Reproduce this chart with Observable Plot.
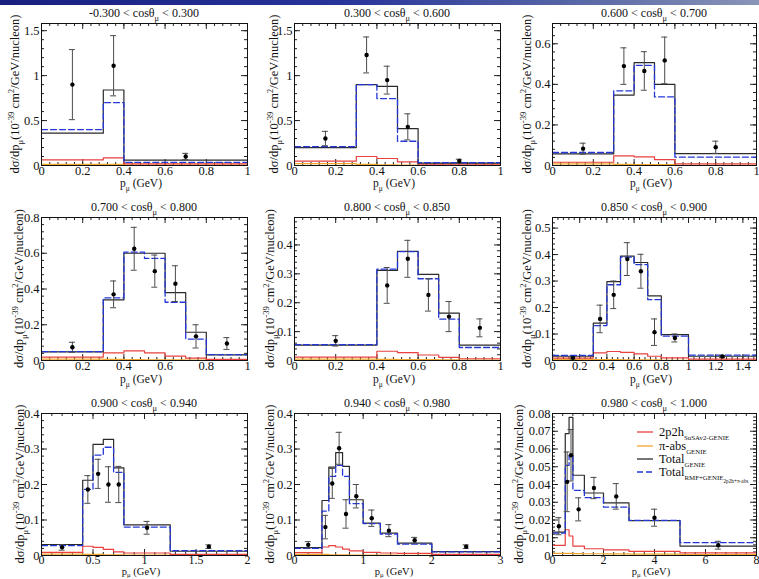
<!DOCTYPE html>
<html>
<head>
<meta charset="utf-8">
<script src="https://cdn.jsdelivr.net/npm/d3@7"></script>
<script src="https://cdn.jsdelivr.net/npm/@observablehq/plot@0.6"></script>
<style>
  html, body { margin: 0; padding: 0; background: #fff; overflow: hidden; }
  #page { position: relative; width: 759px; height: 579px; overflow: hidden; background: #fff;
          font-family: "Liberation Serif", "DejaVu Serif", serif; }
  #band { position: absolute; left: 0; top: 0; width: 759px; height: 5px;
          background: linear-gradient(to right, #18207f, #27349a 45%, #5f6ea8 80%, #8a95b8); }
  .panel { position: absolute; }
  .panel text, .panel tspan { font-family: "Liberation Serif", "DejaVu Serif", serif; }
</style>
</head>
<body>
<div id="page"><div id="band"></div></div>
<script>
// cos(theta_mu) slice boundaries, one slice per panel
const cosEdges = ["-0.300", "0.300", "0.600", "0.700", "0.800", "0.850", "0.900", "0.940", "0.980", "1.000"];

// muon momentum bin edges (GeV) for each slice, last edge = end of drawn range
const binEdges = [
  [0, 0.3, 0.4, 1],
  [0, 0.3, 0.4, 0.5, 0.6, 1],
  [0, 0.3, 0.4, 0.5, 0.6, 1],
  [0, 0.3, 0.4, 0.5, 0.6, 0.7, 0.8, 1],
  [0, 0.4, 0.5, 0.6, 0.7, 0.8, 1],
  [0, 0.3, 0.4, 0.5, 0.6, 0.7, 0.8, 1.0, 1.5],
  [0, 0.4, 0.5, 0.6, 0.7, 0.8, 1.25, 2],
  [0, 0.4, 0.5, 0.6, 0.7, 0.8, 1.0, 1.25, 1.5, 2.0, 3],
  [0, 0.5, 0.65, 0.8, 1.25, 2, 3, 5, 8]
];

// Total GENIE prediction per bin
const totalGenie = [
  [0.36, 0.84, 0.06],
  [0.20, 0.90, 0.88, 0.41, 0.026],
  [0.057, 0.347, 0.507, 0.40, 0.059],
  [0.048, 0.339, 0.60, 0.60, 0.38, 0.158, 0.032],
  [0.053, 0.312, 0.378, 0.298, 0.164, 0.053],
  [0.016, 0.141, 0.298, 0.394, 0.37, 0.244, 0.098, 0.016],
  [0.031, 0.212, 0.313, 0.327, 0.247, 0.086, 0.012],
  [0.022, 0.155, 0.249, 0.29, 0.251, 0.157, 0.091, 0.063, 0.035, 0.011],
  [0.0132, 0.0687, 0.0778, 0.0452, 0.0352, 0.0296, 0.0196, 0.0053]
];

// Total RMF + GENIE (2p2h + pi-abs) prediction per bin
const totalRmf = [
  [0.40, 0.70, 0.035],
  [0.21, 0.90, 0.745, 0.27, 0.033],
  [0.064, 0.368, 0.494, 0.338, 0.041],
  [0.05, 0.35, 0.606, 0.571, 0.326, 0.12, 0.033],
  [0.055, 0.316, 0.377, 0.283, 0.143, 0.045],
  [0.019, 0.132, 0.286, 0.39, 0.362, 0.23, 0.092, 0.02],
  [0.028, 0.186, 0.283, 0.305, 0.234, 0.08, 0.014],
  [0.02, 0.125, 0.223, 0.254, 0.223, 0.146, 0.09, 0.06, 0.032, 0.01],
  [0.0126, 0.0508, 0.0565, 0.0367, 0.0326, 0.0273, 0.0198, 0.0072]
];

// 2p2h SuSAv2-GENIE contribution per bin
const twoPTwoH = [
  [0.063, 0.085, 0.018],
  [0.048, 0.10, 0.078, 0.04, 0.015],
  [0.016, 0.047, 0.043, 0.029, 0.008],
  [0.019, 0.043, 0.054, 0.043, 0.024, 0.013, 0.006],
  [0.012, 0.032, 0.027, 0.019, 0.011, 0.006],
  [0.009, 0.029, 0.034, 0.031, 0.025, 0.016, 0.010, 0.005],
  [0.009, 0.026, 0.023, 0.017, 0.010, 0.007, 0.003],
  [0.008, 0.024, 0.028, 0.024, 0.018, 0.013, 0.009, 0.007, 0.006, 0.003],
  [0.0057, 0.0145, 0.011, 0.0053, 0.0038, 0.0032, 0.0023, 0.0015]
];

// pi-absorption GENIE contribution per bin
const piAbs = [
  [0.012, 0.012, 0.004],
  [0.02, 0.012, 0.008, 0.005, 0.002],
  [0.008, 0.006, 0.005, 0.004, 0.001],
  [0.008, 0.006, 0.005, 0.004, 0.003, 0.002, 0.001],
  [0.005, 0.004, 0.003, 0.003, 0.002, 0.001],
  [0.004, 0.003, 0.003, 0.002, 0.002, 0.002, 0.001, 0.0005],
  [0.004, 0.003, 0.003, 0.002, 0.002, 0.001, 0.0005],
  [0.003, 0.003, 0.002, 0.002, 0.002, 0.001, 0.001, 0.001, 0.0005, 0.0003],
  [0.0012, 0.0012, 0.0012, 0.0011, 0.001, 0.0009, 0.0008, 0.0005]
];

// measured points: momentum, cross section, uncertainty
const dataP = [
  [0.15, 0.35, 0.7],
  [0.15, 0.35, 0.45, 0.55, 0.8],
  [0.15, 0.35, 0.45, 0.55, 0.8],
  [0.15, 0.35, 0.45, 0.55, 0.65, 0.75, 0.9],
  [0.2, 0.45, 0.55, 0.65, 0.75, 0.9],
  [0.15, 0.35, 0.45, 0.55, 0.65, 0.75, 0.9, 1.25],
  [0.2, 0.45, 0.55, 0.65, 0.75, 1.025, 1.625],
  [0.2, 0.45, 0.55, 0.65, 0.75, 0.9, 1.125, 1.375, 1.75, 2.5],
  [0.25, 0.575, 0.725, 1.025, 1.625, 2.5, 4, 6.5]
];
const dataXsec = [
  [0.90, 1.11, 0.10],
  [0.30, 1.23, 0.95, 0.43, 0.05],
  [0.083, 0.49, 0.466, 0.518, 0.09],
  [0.074, 0.37, 0.625, 0.50, 0.43, 0.135, 0.095],
  [0.068, 0.26, 0.352, 0.227, 0.152, 0.113],
  [0.01, 0.157, 0.248, 0.383, 0.337, 0.107, 0.085, 0.015],
  [0.023, 0.186, 0.23, 0.20, 0.20, 0.078, 0.025],
  [0.03, 0.08, 0.203, 0.302, 0.117, 0.167, 0.105, 0.07, 0.043, 0.025],
  [0.0165, 0.0415, 0.0565, 0.026, 0.038, 0.0333, 0.0213, 0.0058]
];
const dataErr = [
  [0.39, 0.335, 0.035],
  [0.08, 0.20, 0.155, 0.145, 0.02],
  [0.027, 0.09, 0.095, 0.115, 0.03],
  [0.028, 0.075, 0.12, 0.09, 0.10, 0.065, 0.033],
  [0.018, 0.062, 0.064, 0.056, 0.052, 0.031],
  [0.004, 0.052, 0.052, 0.062, 0.064, 0.05, 0.015, 0.003],
  [0.008, 0.039, 0.041, 0.05, 0.051, 0.018, 0.005],
  [0.009, 0.033, 0.042, 0.045, 0.04, 0.033, 0.023, 0.017, 0.008, 0.005],
  [0.0048, 0.0168, 0.0145, 0.0065, 0.006, 0.0072, 0.0048, 0.0022]
];

// axis ranges and labelled tick spacing
const pMax = [1, 1, 1, 1, 1, 1.5, 2, 3, 8];
const xsecMax = [1.58, 1.58, 0.70, 0.80, 0.495, 0.54, 0.40, 0.40, 0.08];
const pStep = [0.2, 0.2, 0.2, 0.2, 0.2, 0.2, 0.5, 1, 2];
const xsecStep = [0.5, 0.5, 0.2, 0.2, 0.1, 0.1, 0.1, 0.1, 0.01];

// legend entries
const legendNames = [
  ["2p2h", "SuSAv2-GENIE", null],
  ["π-abs", "GENIE", null],
  ["Total", "GENIE", null],
  ["Total", "RMF+GENIE", "2p2h+π-abs"]
];

// ---- layout ----
const colLeft = [41, 294, 552], colWidth = [206, 206, 204];
const rowTop = [23, 217, 413], rowHeight = [142, 143, 142];
const xTitleGap = [22, 23, 20];
const xTitleSize = [11.5, 11.5, 10.5];
const xTitleSubShift = [3.5, 3.5, 2.3];
const xTickPad = [1, 1, 0];
const xTickSize = [12.5, 12.5, 12];
const mL = 46, mR = 8, mT = 24, mB = 34;
// distance from the frame's left edge to the y-title baseline
const yTitleGap = [22, 16, 21, 18, 20, 21, 17, 20, 29];

const colors = { red: "#e8413f", orange: "#eea62c", black: "#2a2a2a", blue: "#2438d8" };
const FONT = '"Liberation Serif", "DejaVu Serif", serif';

const fmt = d => String(+d.toFixed(4));
const tickValues = (max, step) => d3.range(Math.floor(max / step + 1e-6) + 1).map(k => +(k * step).toFixed(6));
const stepData = (edges, vals) =>
  vals.map((v, k) => ({p: edges[k], v})).concat([{p: edges[edges.length - 1], v: vals[vals.length - 1]}]);

const page = document.getElementById("page");

// writes a label made of normal / sub / super / sub-sub pieces as tspans
function richText(sel, parts, subScale = 0.7, subsubScale = 0.5, subShift = 3.5) {
  const shift = {n: 0, sub: subShift, sup: -5, subsub: 6.5};
  let cur = 0;
  parts.forEach(([t, kind]) => {
    const target = shift[kind];
    const ts = sel.append("tspan").text(t).attr("dy", target - cur);
    if (kind === "sub" || kind === "sup") ts.attr("font-size", subScale + "em");
    if (kind === "subsub") ts.attr("font-size", subsubScale + "em");
    cur = target;
  });
}

for (let i = 0; i < 9; i++) {
  const r = Math.floor(i / 3), c = i % 3;
  const W = colWidth[c], H = rowHeight[r];
  const xm = pMax[i], ym = xsecMax[i];
  const edges = binEdges[i];

  const xMajor = tickValues(xm, pStep[i]);
  const xMinor = tickValues(xm, pStep[i] / 5);
  const yMajor = tickValues(ym, xsecStep[i]);
  const yMinor = tickValues(ym, xsecStep[i] / 5);

  // inward tick lengths expressed in data units
  const kx = xm / W, ky = ym / H;
  const majLen = 6, minLen = 3;
  const pts = dataP[i].map((p, k) => ({p, v: dataXsec[i][k], lo: dataXsec[i][k] - dataErr[i][k], hi: dataXsec[i][k] + dataErr[i][k]}));
  const cap = 3 * kx;

  const chart = Plot.plot({
    width: mL + W + mR,
    height: mT + H + mB,
    marginLeft: mL, marginRight: mR, marginTop: mT, marginBottom: mB,
    x: {domain: [0, xm]},
    y: {domain: [0, ym]},
    style: {fontFamily: FONT, fontSize: "12px", background: "transparent", color: "#111", overflow: "visible"},
    marks: [
      // ROOT-style inward ticks on all four sides
      Plot.ruleX(xMinor, {x: d => d, y1: 0, y2: minLen * ky, stroke: "#222"}),
      Plot.ruleX(xMinor, {x: d => d, y1: ym, y2: ym - minLen * ky, stroke: "#222"}),
      Plot.ruleX(xMajor, {x: d => d, y1: 0, y2: majLen * ky, stroke: "#222"}),
      Plot.ruleX(xMajor, {x: d => d, y1: ym, y2: ym - majLen * ky, stroke: "#222"}),
      Plot.ruleY(yMinor, {y: d => d, x1: 0, x2: minLen * kx, stroke: "#222"}),
      Plot.ruleY(yMinor, {y: d => d, x1: xm, x2: xm - minLen * kx, stroke: "#222"}),
      Plot.ruleY(yMajor, {y: d => d, x1: 0, x2: majLen * kx, stroke: "#222"}),
      Plot.ruleY(yMajor, {y: d => d, x1: xm, x2: xm - majLen * kx, stroke: "#222"}),
      Plot.axisX({ticks: xMajor, tickSize: 0, tickPadding: xTickPad[r], tickFormat: fmt, label: null, fontSize: xTickSize[r]}),
      Plot.axisY({ticks: yMajor, tickSize: 0, tickPadding: 2, tickFormat: fmt, label: null, fontSize: 12.5}),
      // model histograms
      Plot.line(stepData(edges, piAbs[i]), {x: "p", y: "v", curve: "step-after", stroke: colors.orange, strokeWidth: 1.2}),
      Plot.line(stepData(edges, twoPTwoH[i]), {x: "p", y: "v", curve: "step-after", stroke: colors.red, strokeWidth: 1.2}),
      Plot.line(stepData(edges, totalGenie[i]), {x: "p", y: "v", curve: "step-after", stroke: colors.black, strokeWidth: 1.2}),
      Plot.line(stepData(edges, totalRmf[i]), {x: "p", y: "v", curve: "step-after", stroke: colors.blue, strokeWidth: 1.3, strokeDasharray: "6,3"}),
      // data with error bars
      Plot.ruleX(pts, {x: "p", y1: "lo", y2: "hi", stroke: "#4a4a4a", strokeWidth: 1}),
      Plot.ruleY(pts, {y: "lo", x1: d => d.p - cap, x2: d => d.p + cap, stroke: "#4a4a4a"}),
      Plot.ruleY(pts, {y: "hi", x1: d => d.p - cap, x2: d => d.p + cap, stroke: "#4a4a4a"}),
      Plot.dot(pts, {x: "p", y: "v", r: 2.2, fill: "#000", stroke: "none"}),
      Plot.frame({stroke: "#111", strokeWidth: 1})
    ]
  });

  chart.classList.add("panel");
  chart.style.left = (colLeft[c] - mL) + "px";
  chart.style.top = (rowTop[r] - mT) + "px";
  chart.setAttribute("font-family", FONT);
  page.appendChild(chart);

  const svg = d3.select(chart);
  // slice title
  const title = svg.append("text")
    .attr("x", mL + W / 2).attr("y", mT - 6)
    .attr("text-anchor", "middle").attr("font-size", 12).attr("fill", "#111");
  richText(title, [[`${cosEdges[i]} < cosθ`, "n"], ["μ", "sub"], [` < ${cosEdges[i + 1]}`, "n"]]);

  // x title
  const xt = svg.append("text")
    .attr("x", mL + W / 2 - 3).attr("y", mT + H + xTitleGap[r])
    .attr("text-anchor", "middle").attr("font-size", xTitleSize[r]).attr("fill", "#111");
  richText(xt, [["p", "n"], ["μ", "sub"], [" (GeV)", "n"]], 0.65, 0.5, xTitleSubShift[r]);

  // y title
  const yt = svg.append("text")
    .attr("transform", `translate(${mL - yTitleGap[i]},${mT + H / 2}) rotate(-90)`)
    .attr("text-anchor", "middle")
    .attr("font-size", 12.5).attr("fill", "#111");
  richText(yt, [["dσ/dp", "n"], ["μ", "sub"], ["(10", "n"], ["-39", "sup"], [" cm", "n"], ["2", "sup"], ["/GeV/nucleon)", "n"]]);

  if (i === 8) {
    const lg = svg.append("g").attr("transform", `translate(${mL + 85},${mT + 19})`);
    const sw = [colors.red, colors.orange, colors.black, colors.blue];
    const rowY = [0, 14, 27, 40];
    legendNames.forEach(([main, sub, subsub], k) => {
      lg.append("line").attr("x1", 0).attr("x2", 16).attr("y1", rowY[k]).attr("y2", rowY[k])
        .attr("stroke", sw[k]).attr("stroke-width", 1.3)
        .attr("stroke-dasharray", k === 3 ? "6,3" : null);
      const t = lg.append("text").attr("x", 22).attr("y", rowY[k] + 4)
        .attr("text-anchor", "start").attr("font-size", 12.5).attr("fill", "#111");
      const parts = [[main, "n"], [sub, "sub"]];
      if (subsub) parts.push([subsub, "subsub"]);
      richText(t, parts, 0.55, 0.42);
    });
  }

  svg.selectAll("text").attr("font-family", FONT);
}
</script>
</body>
</html>
